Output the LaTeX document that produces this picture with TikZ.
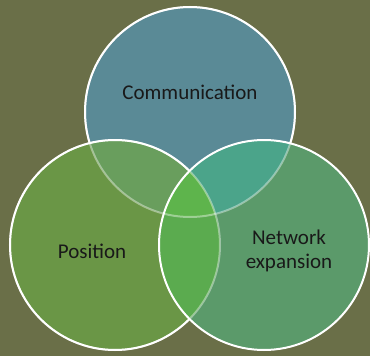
\documentclass[tikz,border=0pt]{standalone}
\usepackage{fontspec}
\setmainfont{Carlito}
\begin{document}
\begin{tikzpicture}[x=1pt,y=-1pt,
  rim/.style={draw=white,line width=2pt},
  faded/.style={draw=white,draw opacity=0.4,line width=2pt},
  lbl/.style={font=\fontsize{21}{24}\selectfont,text=black!90,align=center}]
\definecolor{bg}{HTML}{6A6F48}
\definecolor{ctop}{HTML}{5A8A96}
\definecolor{cleft}{HTML}{6A9646}
\definecolor{cright}{HTML}{5B9A6A}
\definecolor{ctl}{HTML}{699E5D}
\definecolor{ctr}{HTML}{4BA48A}
\definecolor{clr}{HTML}{5BAB4F}
\definecolor{call}{HTML}{5EB44C}
\useasboundingbox (0,0) rectangle (370,356);
\fill[bg] (0,0) rectangle (370,356);
\coordinate (T) at (190,112);
\coordinate (L) at (115,245);
\coordinate (R) at (264,245);
\fill[ctop] (T) circle (105pt);
\fill[cleft] (L) circle (105pt);
\fill[cright] (R) circle (105pt);
\begin{scope}\clip (T) circle (105pt); \fill[ctl] (L) circle (105pt);\end{scope}
\begin{scope}\clip (T) circle (105pt); \fill[ctr] (R) circle (105pt);\end{scope}
\begin{scope}\clip (L) circle (105pt); \fill[clr] (R) circle (105pt);\end{scope}
\begin{scope}\clip (L) circle (105pt); \clip (T) circle (105pt); \fill[call] (R) circle (105pt);\end{scope}
% top circle border
\path[faded] (T) circle (105pt);
\begin{scope}[even odd rule]
  \clip (-10,-10) rectangle (380,366) (L) circle (105pt);
  \clip (-10,-10) rectangle (380,366) (R) circle (105pt);
  \path[rim] (T) circle (105pt);
\end{scope}
% left circle border
\path[faded] (L) circle (105pt);
\begin{scope}[even odd rule]
  \clip (-10,-10) rectangle (380,366) (R) circle (105pt);
  \path[rim] (L) circle (105pt);
\end{scope}
% right circle border
\path[rim] (R) circle (105pt);
\node[lbl] (comm) at (190,92) {Communication};
\node[lbl] (pos) at (92,251) {Position};
\node[lbl] (net) at (289,251) {Network\\expansion};
\end{tikzpicture}
\end{document}
